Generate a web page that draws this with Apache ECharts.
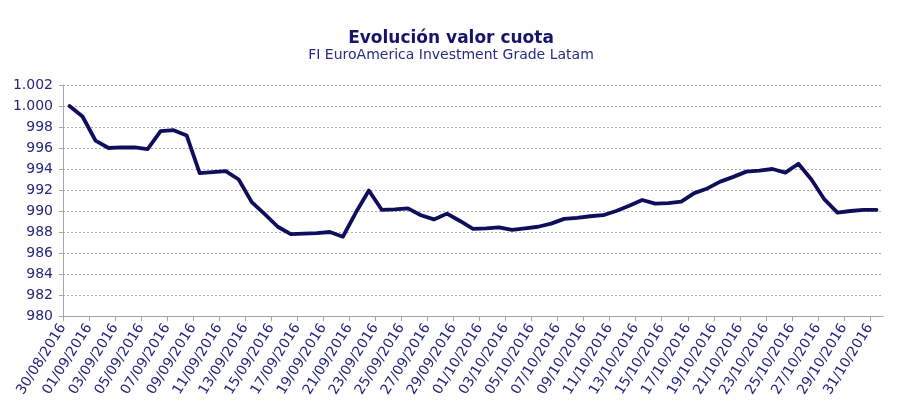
<!DOCTYPE html>
<html>
<head>
<meta charset="utf-8">
<script src="https://cdn.jsdelivr.net/npm/echarts@6/dist/echarts.min.js"></script>
<style>
  html, body { margin: 0; padding: 0; background: #fff; }
  #chart { width: 902px; height: 416px; }
</style>
</head>
<body>
<div id="chart"></div>
<script>
// valor cuota diario, 30/08/2016 .. 31/10/2016
const values = [
  1000.0, 999.0, 996.7, 996.0, 996.05, 996.05, 995.9, 997.6, 997.7, 997.2,
  993.6, 993.7, 993.8, 993.0, 990.85, 989.7, 988.5, 987.8, 987.85, 987.9,
  988.0, 987.55, 989.85, 991.95, 990.1, 990.15, 990.25, 989.6, 989.2, 989.75,
  989.05, 988.3, 988.35, 988.45, 988.2, 988.35, 988.5, 988.8, 989.25, 989.35,
  989.5, 989.6, 990.0, 990.5, 991.05, 990.7, 990.75, 990.9, 991.7, 992.15,
  992.8, 993.25, 993.75, 993.85, 994.0, 993.65, 994.5, 993.0, 991.1, 989.85,
  990.0, 990.1, 990.1
];

// etiquetas del eje X, una cada dos días
const tickLabels = [
  '30/08/2016', '01/09/2016', '03/09/2016', '05/09/2016', '07/09/2016', '09/09/2016',
  '11/09/2016', '13/09/2016', '15/09/2016', '17/09/2016', '19/09/2016', '21/09/2016',
  '23/09/2016', '25/09/2016', '27/09/2016', '29/09/2016', '01/10/2016', '03/10/2016',
  '05/10/2016', '07/10/2016', '09/10/2016', '11/10/2016', '13/10/2016', '15/10/2016',
  '17/10/2016', '19/10/2016', '21/10/2016', '23/10/2016', '25/10/2016', '27/10/2016',
  '29/10/2016', '31/10/2016'
];

const yMin = 980, yMax = 1002, yStep = 2;

const NAVY = '#0e0e5c';
const LABEL = '#26267e';
const AXIS = '#a6a6a6';
const FONT = "'DejaVu Sans', Verdana, sans-serif";

const tickPos = tickLabels.map((_, i) => i * 2);
const fmtMiles = v => {
  const s = String(Math.round(v));
  return s.length > 3 ? s.slice(0, -3) + '.' + s.slice(-3) : s;
};

const chart = echarts.init(document.getElementById('chart'));
chart.setOption({
  animation: false,
  backgroundColor: '#fff',
  title: {
    text: 'Evolución valor cuota',
    subtext: 'FI EuroAmerica Investment Grade Latam',
    left: 'center',
    top: 25,
    itemGap: 1,
    textStyle: { color: '#14146b', fontSize: 17, fontWeight: 'bold', fontFamily: FONT },
    subtextStyle: { color: '#2a2a80', fontSize: 14, fontFamily: FONT }
  },
  grid: { left: 63, right: 19, top: 85, bottom: 100 },
  xAxis: {
    type: 'value',
    min: 0,
    max: values.length,
    axisLine: { show: true, lineStyle: { color: AXIS, width: 1 } },
    axisTick: { show: true, length: 5, customValues: tickPos, lineStyle: { color: AXIS } },
    splitLine: { show: false },
    axisLabel: {
      customValues: tickPos,
      rotate: 58,
      margin: 9,
      color: LABEL,
      fontSize: 14,
      fontFamily: FONT,
      formatter: v => tickLabels[v / 2] || ''
    }
  },
  yAxis: {
    type: 'value',
    min: yMin,
    max: yMax,
    interval: yStep,
    axisLine: { show: true, lineStyle: { color: AXIS, width: 1 } },
    axisTick: { show: true, length: 4, lineStyle: { color: AXIS } },
    splitLine: { show: true, lineStyle: { color: '#ababab', type: [2, 2], width: 1 } },
    axisLabel: { color: LABEL, fontSize: 14, fontFamily: FONT, margin: 10, formatter: fmtMiles }
  },
  series: [{
    type: 'line',
    data: values.map((v, i) => [i + 0.5, v]),
    showSymbol: false,
    smooth: false,
    lineStyle: { color: NAVY, width: 3.8, join: 'round', cap: 'round' }
  }]
});
</script>
</body>
</html>
